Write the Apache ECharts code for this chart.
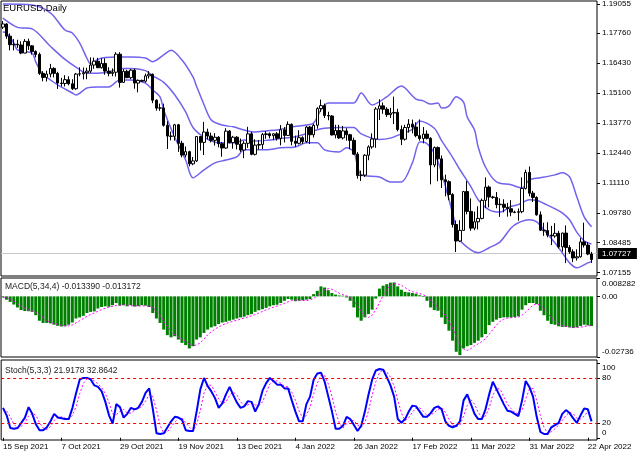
<!DOCTYPE html>
<html><head><meta charset="utf-8">
<script src="https://cdn.jsdelivr.net/npm/echarts@6/dist/echarts.min.js"></script>
<style>html,body{margin:0;padding:0;background:#fff}#c{width:640px;height:457px}</style>
</head><body><div id="c"></div>
<script>
// ---- date tick labels (one every 16 bars) ----
const tickLabels = ['15 Sep 2021','7 Oct 2021','29 Oct 2021','19 Nov 2021','13 Dec 2021','4 Jan 2022','26 Jan 2022','17 Feb 2022','11 Mar 2022','31 Mar 2022','22 Apr 2022'];
const priceTicks = [1.19055,1.17760,1.16430,1.15100,1.13770,1.12440,1.11110,1.09780,1.08485,1.07155];
const macdTicks = [0.008282, 0, -0.02736];
const stochTicks = [100, 80, 20, 0];
const stochLevels = [80, 20];

// ---- EURUSD daily candles ----
const open = [1.1803,1.1817,1.1763,1.1725,1.1727,1.1724,1.1688,1.1740,1.1720,1.1695,
1.1682,1.1598,1.1580,1.1595,1.1620,1.1598,1.1555,1.1553,1.1570,1.1552,
1.1530,1.1595,1.1596,1.1601,1.1608,1.1635,1.1652,1.1623,1.1642,1.1608,
1.1598,1.1603,1.1683,1.1558,1.1607,1.1579,1.1612,1.1555,1.1567,1.1563,
1.1587,1.1594,1.1479,1.1444,1.1445,1.1368,1.1320,1.1319,1.1370,1.1288,
1.1236,1.1251,1.1197,1.1210,1.1318,1.1292,1.1338,1.1320,1.1301,1.1315,
1.1286,1.1267,1.1342,1.1291,1.1315,1.1284,1.1258,1.1288,1.1330,1.1239,
1.1280,1.1283,1.1327,1.1330,1.1322,1.1330,1.1310,1.1348,1.1323,1.1372,
1.1297,1.1288,1.1313,1.1296,1.1360,1.1326,1.1368,1.1442,1.1455,1.1411,
1.1409,1.1325,1.1345,1.1312,1.1343,1.1326,1.1301,1.1240,1.1145,1.1147,
1.1235,1.1272,1.1307,1.1440,1.1454,1.1439,1.1415,1.1422,1.1425,1.1349,
1.1306,1.1358,1.1373,1.1360,1.1322,1.1309,1.1329,1.1310,1.1192,1.1269,
1.1219,1.1126,1.1118,1.1061,1.0928,1.0855,1.0902,1.1074,1.0986,1.0912,
1.0940,1.0955,1.1035,1.1094,1.1050,1.1048,1.1016,1.1018,1.1004,1.0998,
1.0983,1.0982,1.0985,1.1088,1.1159,1.1067,1.1048,1.0971,1.0903,1.0901,
1.0881,1.0877,1.0889,1.0829,1.0890,1.0826,1.0807,1.0780,1.0785,1.0851,
1.0837,1.0797];
const close = [1.1817,1.1763,1.1725,1.1727,1.1724,1.1688,1.1740,1.1720,1.1695,1.1682,
1.1598,1.1580,1.1595,1.1620,1.1598,1.1555,1.1553,1.1570,1.1552,1.1530,
1.1595,1.1596,1.1601,1.1608,1.1635,1.1652,1.1623,1.1642,1.1608,1.1598,
1.1603,1.1683,1.1558,1.1607,1.1579,1.1612,1.1555,1.1567,1.1563,1.1587,
1.1594,1.1479,1.1444,1.1445,1.1368,1.1320,1.1319,1.1370,1.1288,1.1236,
1.1251,1.1197,1.1210,1.1318,1.1292,1.1338,1.1320,1.1301,1.1315,1.1286,
1.1267,1.1342,1.1291,1.1315,1.1284,1.1258,1.1288,1.1330,1.1239,1.1280,
1.1283,1.1327,1.1330,1.1322,1.1330,1.1310,1.1348,1.1323,1.1372,1.1297,
1.1288,1.1313,1.1296,1.1360,1.1326,1.1368,1.1442,1.1455,1.1411,1.1409,
1.1325,1.1345,1.1312,1.1343,1.1326,1.1301,1.1240,1.1145,1.1147,1.1235,
1.1272,1.1307,1.1440,1.1454,1.1439,1.1415,1.1422,1.1425,1.1349,1.1306,
1.1358,1.1373,1.1360,1.1322,1.1309,1.1329,1.1310,1.1192,1.1269,1.1219,
1.1126,1.1118,1.1061,1.0928,1.0855,1.0902,1.1074,1.0986,1.0912,1.0940,
1.0955,1.1035,1.1094,1.1050,1.1048,1.1016,1.1018,1.1004,1.0998,1.0983,
1.0982,1.0985,1.1088,1.1159,1.1067,1.1048,1.0971,1.0903,1.0901,1.0881,
1.0877,1.0889,1.0829,1.0890,1.0826,1.0807,1.0780,1.0785,1.0851,1.0837,
1.0797,1.07727];
const high = [1.1830,1.1820,1.1775,1.1750,1.1747,1.1740,1.1750,1.1752,1.1723,1.1700,
1.1690,1.1608,1.1610,1.1640,1.1625,1.1605,1.1578,1.1590,1.1585,1.1572,
1.1600,1.1625,1.1624,1.1623,1.1669,1.1668,1.1667,1.1665,1.1665,1.1625,
1.1620,1.1692,1.1692,1.1617,1.1614,1.1617,1.1619,1.1571,1.1570,1.1597,
1.1608,1.1597,1.1483,1.1464,1.1464,1.1386,1.1340,1.1374,1.1374,1.1299,
1.1274,1.1255,1.1227,1.1320,1.1319,1.1383,1.1353,1.1335,1.1333,1.1320,
1.1294,1.1355,1.1347,1.1321,1.1320,1.1309,1.1298,1.1361,1.1339,1.1306,
1.1302,1.1334,1.1342,1.1336,1.1333,1.1338,1.1369,1.1360,1.1385,1.1376,
1.1322,1.1346,1.1319,1.1365,1.1365,1.1375,1.1448,1.1482,1.1464,1.1428,
1.1413,1.1370,1.1370,1.1365,1.1355,1.1330,1.1313,1.1249,1.1167,1.1240,
1.1279,1.1332,1.1448,1.1483,1.1469,1.1448,1.1445,1.1495,1.1441,1.1367,
1.1370,1.1395,1.1393,1.1381,1.1394,1.1360,1.1345,1.1315,1.1274,1.1274,
1.1234,1.1149,1.1124,1.1067,1.0946,1.0947,1.1077,1.1121,1.1044,1.0985,
1.1009,1.1043,1.1137,1.1101,1.1055,1.1072,1.1044,1.1040,1.1024,1.1036,
1.0989,1.0999,1.1137,1.1171,1.1185,1.1077,1.1053,1.0986,1.0936,1.0938,
1.0922,1.0934,1.0900,1.0892,1.0924,1.0837,1.0818,1.0818,1.0868,1.0936,
1.0850,1.0807];
const low = [1.1795,1.1751,1.1700,1.1700,1.1711,1.1683,1.1687,1.1702,1.1681,1.1669,
1.1591,1.1563,1.1562,1.1580,1.1580,1.1529,1.1540,1.1540,1.1545,1.1524,
1.1525,1.1585,1.1571,1.1572,1.1600,1.1618,1.1622,1.1619,1.1592,1.1585,
1.1585,1.1584,1.1535,1.1557,1.1577,1.1572,1.1530,1.1514,1.1560,1.1557,
1.1575,1.1466,1.1433,1.1432,1.1362,1.1263,1.1301,1.1300,1.1250,1.1226,
1.1225,1.1186,1.1191,1.1205,1.1256,1.1236,1.1305,1.1292,1.1278,1.1270,
1.1228,1.1263,1.1288,1.1264,1.1261,1.1250,1.1222,1.1268,1.1235,1.1234,
1.1260,1.1263,1.1308,1.1310,1.1302,1.1300,1.1279,1.1292,1.1322,1.1279,
1.1272,1.1283,1.1285,1.1290,1.1285,1.1314,1.1353,1.1427,1.1400,1.1390,
1.1323,1.1310,1.1308,1.1305,1.1300,1.1262,1.1237,1.1131,1.1121,1.1139,
1.1213,1.1264,1.1268,1.1391,1.1419,1.1405,1.1400,1.1373,1.1341,1.1280,
1.1300,1.1335,1.1332,1.1315,1.1300,1.1288,1.1305,1.1106,1.1182,1.1120,
1.1090,1.1053,1.1036,1.0915,1.0806,1.0850,1.0902,1.0973,1.0900,1.0903,
1.0906,1.0951,1.1001,1.1004,1.1042,1.1000,1.0962,1.0982,1.0963,1.0965,
1.0978,1.0945,1.0978,1.1083,1.1053,1.1028,1.0967,1.0900,1.0878,1.0871,
1.0837,1.0869,1.0822,1.0808,1.0757,1.0798,1.0761,1.0768,1.0781,1.0826,
1.0792,1.0758];

// ---- Bollinger bands as [bar, price] ----
const bbUpper = [[0,1.1905],[8,1.1901],[13,1.1866],[17,1.1790],[19,1.1777],[21,1.1733],[23,1.1665],[24,1.1640],[26,1.1660],[28,1.1668],[31,1.1671],[35,1.1671],[39,1.1666],[41,1.1650],[44,1.1680],[46,1.1700],[49,1.1657],[52,1.1582],[53,1.1540],[55,1.1460],[57,1.1391],[60,1.1369],[63,1.1361],[66,1.1347],[69,1.1338],[72,1.1343],[75,1.1347],[79,1.1361],[83,1.1369],[85,1.1378],[87,1.1436],[89,1.1467],[96,1.1467],[98,1.1511],[101,1.1458],[105,1.1494],[109,1.1542],[110,1.1533],[113,1.1484],[115,1.1476],[117,1.1462],[119,1.1467],[120,1.1444],[122,1.1453],[124,1.1494],[126,1.1471],[127,1.1405],[129,1.1347],[130,1.1272],[132,1.1183],[135,1.1117],[139,1.1104],[142,1.1090],[144,1.1126],[147,1.1135],[151,1.1148],[153,1.1157],[155,1.1139],[157,1.1050],[159,1.0962],[161,1.0918]];
const bbMiddle = [[0,1.1843],[4,1.1802],[8,1.1795],[13,1.1718],[17,1.1660],[20,1.1626],[23,1.1599],[26,1.1599],[29,1.1604],[32,1.1620],[35,1.1620],[39,1.1610],[41,1.1587],[44,1.1558],[47,1.1503],[50,1.1427],[52,1.1358],[55,1.1315],[58,1.1293],[61,1.1290],[64,1.1292],[66,1.1303],[69,1.1298],[72,1.1301],[76,1.1309],[80,1.1317],[83,1.1330],[86,1.1348],[88,1.1355],[92,1.1358],[96,1.1358],[98,1.1330],[103,1.1305],[106,1.1311],[109,1.1330],[112,1.1350],[114,1.1387],[118,1.1355],[120,1.1300],[123,1.1226],[125,1.1171],[128,1.1096],[130,1.1038],[133,1.0993],[136,1.0983],[139,1.1009],[141,1.1016],[144,1.1038],[146,1.1036],[148,1.1021],[151,1.0998],[153,1.0980],[155,1.0949],[157,1.0893],[159,1.0856],[161,1.0841]];
const bbLower = [[0,1.1781],[1,1.1777],[3,1.1733],[4,1.1702],[8,1.1688],[9,1.1649],[11,1.1591],[13,1.1569],[15,1.1547],[19,1.1511],[20,1.1502],[23,1.1533],[26,1.1538],[29,1.1538],[32,1.1569],[35,1.1569],[39,1.1555],[41,1.1524],[43,1.1494],[44,1.1436],[47,1.1316],[50,1.1214],[52,1.1135],[55,1.1170],[58,1.1201],[61,1.1214],[64,1.1228],[66,1.1259],[69,1.1259],[72,1.1259],[76,1.1268],[80,1.1272],[83,1.1290],[86,1.1290],[88,1.1259],[92,1.1250],[94,1.1268],[96,1.1250],[98,1.1148],[103,1.1139],[106,1.1117],[109,1.1117],[112,1.1201],[114,1.1294],[115,1.1294],[118,1.1245],[120,1.1157],[123,1.0979],[125,1.0860],[128,1.0816],[130,1.0803],[133,1.0825],[136,1.0851],[139,1.0913],[141,1.0936],[144,1.0949],[146,1.0940],[148,1.0904],[151,1.0847],[153,1.0803],[155,1.0758],[157,1.0736],[160,1.0758],[161,1.0763]];

// ---- MACD(5,34,4) ----
const macdHist = [-0.0005,-0.0015,-0.0025,-0.0037,-0.0050,-0.0062,-0.0066,-0.0067,-0.0070,-0.0085,
-0.0110,-0.0120,-0.0120,-0.0122,-0.0128,-0.0133,-0.0136,-0.0135,-0.0128,-0.0118,
-0.0100,-0.0095,-0.0088,-0.0075,-0.0070,-0.0068,-0.0055,-0.0048,-0.0045,-0.0047,
-0.0040,-0.0030,-0.0042,-0.0040,-0.0045,-0.0040,-0.0046,-0.0044,-0.0040,-0.0042,
-0.0048,-0.0075,-0.0100,-0.0120,-0.0150,-0.0175,-0.0185,-0.0180,-0.0195,-0.0210,
-0.0220,-0.0235,-0.0225,-0.0195,-0.0185,-0.0165,-0.0150,-0.0140,-0.0135,-0.0125,
-0.0118,-0.0115,-0.0110,-0.0105,-0.0100,-0.0095,-0.0092,-0.0085,-0.0080,-0.0070,
-0.0063,-0.0058,-0.0052,-0.0045,-0.0040,-0.0038,-0.0030,-0.0020,-0.0012,-0.0015,
-0.0022,-0.0020,-0.0018,-0.0015,-0.0012,0.0010,0.0025,0.0045,0.0040,0.0028,
0.0015,0.0008,0.0004,0.0003,-0.0005,-0.0020,-0.0050,-0.0095,-0.0110,-0.0095,
-0.0080,-0.0060,-0.0010,0.0035,0.0048,0.0055,0.0062,0.0063,0.0045,0.0030,
0.0020,0.0018,0.0015,0.0012,0.0005,-0.0003,-0.0020,-0.0050,-0.0062,-0.0065,
-0.0095,-0.0125,-0.0155,-0.0200,-0.0250,-0.0265,-0.0235,-0.0225,-0.0220,-0.0210,
-0.0200,-0.0185,-0.0170,-0.0130,-0.0115,-0.0105,-0.0098,-0.0095,-0.0095,-0.0095,
-0.0093,-0.0090,-0.0060,-0.0040,-0.0030,-0.0030,-0.0035,-0.0065,-0.0085,-0.0110,
-0.0125,-0.0128,-0.0135,-0.0138,-0.0138,-0.0140,-0.0143,-0.0140,-0.0134,-0.0128,
-0.0131,-0.013390];
const macdSignal = [-0.0003,-0.0006,-0.0012,-0.0021,-0.0032,-0.0044,-0.0054,-0.0061,-0.0066,-0.0072,
-0.0083,-0.0096,-0.0109,-0.0118,-0.0123,-0.0126,-0.0130,-0.0133,-0.0133,-0.0129,
-0.0120,-0.0110,-0.0100,-0.0090,-0.0082,-0.0075,-0.0067,-0.0060,-0.0054,-0.0049,
-0.0045,-0.0041,-0.0040,-0.0038,-0.0039,-0.0042,-0.0043,-0.0044,-0.0043,-0.0043,
-0.0044,-0.0051,-0.0066,-0.0086,-0.0111,-0.0136,-0.0158,-0.0173,-0.0184,-0.0193,
-0.0201,-0.0215,-0.0223,-0.0219,-0.0210,-0.0193,-0.0174,-0.0160,-0.0148,-0.0138,
-0.0130,-0.0123,-0.0117,-0.0112,-0.0108,-0.0103,-0.0098,-0.0093,-0.0088,-0.0082,
-0.0075,-0.0068,-0.0061,-0.0055,-0.0049,-0.0044,-0.0038,-0.0032,-0.0025,-0.0019,
-0.0017,-0.0017,-0.0019,-0.0019,-0.0016,-0.0009,0.0002,0.0017,0.0030,0.0035,
0.0032,0.0023,0.0014,0.0008,0.0003,-0.0005,-0.0018,-0.0043,-0.0069,-0.0088,
-0.0095,-0.0086,-0.0061,-0.0029,0.0003,0.0032,0.0050,0.0057,0.0056,0.0050,
0.0040,0.0028,0.0021,0.0016,0.0013,0.0007,-0.0002,-0.0017,-0.0034,-0.0049,
-0.0068,-0.0087,-0.0110,-0.0144,-0.0183,-0.0218,-0.0238,-0.0244,-0.0236,-0.0223,
-0.0214,-0.0204,-0.0191,-0.0171,-0.0150,-0.0130,-0.0112,-0.0103,-0.0098,-0.0096,
-0.0095,-0.0093,-0.0085,-0.0071,-0.0055,-0.0040,-0.0034,-0.0040,-0.0054,-0.0074,
-0.0096,-0.0112,-0.0125,-0.0132,-0.0135,-0.0138,-0.0140,-0.0140,-0.0139,-0.0136,
-0.0133,-0.013172];

// ---- Stochastic(5,3,3) ----
const stochK = [40,30,13,12,13,20,27,41,32,18,
10,10,14,22,32,27,26,25,25,40,
60,78,80,80,78,70,68,62,48,30,
19,45,41,27,32,40,38,40,48,60,
66,38,6,5,6,14,22,28,27,24,
10,9,9,36,65,80,69,62,53,40,
46,58,68,57,47,40,42,49,48,35,
45,63,73,80,76,71,71,66,66,50,
35,22,22,45,55,78,86,87,75,55,
35,12,12,16,28,25,17,9,16,35,
58,78,90,92,91,81,70,55,25,20,
25,35,43,42,35,28,28,33,40,42,
38,22,16,14,16,22,50,58,45,32,
25,25,38,58,75,65,55,45,36,35,
32,29,50,76,68,55,28,8,5,5,
14,17,20,32,37,33,26,20,30,39,
38,21.9178];
const stochD = [38,36,28,18,13,15,20,29,33,30,
20,13,11,15,23,27,28,26,25,30,
42,59,73,79,79,76,72,67,59,47,
32,31,35,38,33,33,37,39,42,49,
58,55,37,16,6,8,14,21,26,26,
20,14,9,18,37,60,71,70,61,52,
46,48,57,61,57,48,43,44,46,44,
43,48,60,72,76,76,73,69,68,61,
50,36,26,30,41,59,73,84,83,72,
55,34,20,13,19,23,23,17,14,20,
36,57,75,87,91,88,81,69,50,33,
23,27,34,40,40,35,30,30,34,38,
40,34,25,17,15,17,29,43,51,45,
34,27,29,40,57,66,65,55,45,39,
34,32,37,52,65,66,50,30,14,6,
8,12,17,23,30,34,32,26,25,29,
35,32.8642];

// ---------------- chart ----------------
const FONT = '"Liberation Sans", Arial, sans-serif';
const SLOTS = close.length + 1;            // one empty slot on the right (chart shift)
const cats = Array.from({length: SLOTS}, (_, i) => i);
const candles = open.map((o, i) => [o, close[i], low[i], high[i]]);
const lastClose = close[close.length - 1];
const BB = '#7063ee';

const gridStyle = {show: true, borderColor: '#000', borderWidth: 1, backgroundColor: '#fff', left: 1, width: 596};
const xBase = gi => ({type: 'category', gridIndex: gi, data: cats, boundaryGap: true,
  axisLine: {show: false}, axisTick: {show: false}, axisLabel: {show: false}, splitLine: {show: false}});
const xBottom = Object.assign(xBase(2), {
  axisTick: {show: true, interval: 15, alignWithLabel: true, length: 3, lineStyle: {color: '#000'}},
  axisLabel: {show: true, interval: 15, formatter: v => tickLabels[v / 16] || '', fontSize: 8, color: '#000',
    fontFamily: FONT, margin: 3, align: 'left'}
});
const yCommon = {position: 'right', splitLine: {show: false}, axisLine: {show: false}};
const labelBase = {fontSize: 8, color: '#000', fontFamily: FONT, margin: 5, hideOverlap: false, showMinLabel: true, showMaxLabel: true};

const option = {
  animation: false,
  backgroundColor: '#fff',
  title: [
    {text: 'EURUSD,Daily', left: 3, top: 3, padding: 0,
      textStyle: {fontSize: 9.5, fontWeight: 'normal', color: '#000', fontFamily: FONT}},
    {text: 'MACD(5,34,4) ' + macdHist[macdHist.length - 1].toFixed(6) + ' ' + macdSignal[macdSignal.length - 1].toFixed(6),
      left: 5, top: 282, padding: 0, textStyle: {fontSize: 8.5, fontWeight: 'normal', color: '#222', fontFamily: FONT}},
    {text: 'Stoch(5,3,3) ' + stochK[stochK.length - 1].toFixed(4) + ' ' + stochD[stochD.length - 1].toFixed(4),
      left: 5, top: 366, padding: 0, textStyle: {fontSize: 8.5, fontWeight: 'normal', color: '#222', fontFamily: FONT}}
  ],
  grid: [
    Object.assign({top: 1, height: 275}, gridStyle),
    Object.assign({top: 278, height: 79}, gridStyle),
    Object.assign({top: 360, height: 80}, gridStyle)
  ],
  xAxis: [xBase(0), xBase(1), xBottom],
  yAxis: [
    Object.assign({type: 'value', gridIndex: 0, min: 1.06998, max: 1.19188,
      axisTick: {show: true, customValues: priceTicks, length: 3, lineStyle: {color: '#000'}},
      axisLabel: Object.assign({customValues: priceTicks, formatter: v => v.toFixed(5)}, labelBase)}, yCommon),
    Object.assign({type: 'value', gridIndex: 1, min: macdTicks[2], max: macdTicks[0],
      axisTick: {show: true, customValues: macdTicks, length: 3, lineStyle: {color: '#000'}},
      axisLabel: Object.assign({customValues: macdTicks, lineHeight: 11,
        formatter: v => v === 0 ? '0.00' : (v > 0 ? '\n' + v : v + '\n')}, labelBase)}, yCommon),
    Object.assign({type: 'value', gridIndex: 2, min: -3, max: 104,
      axisTick: {show: true, customValues: stochTicks, length: 3, lineStyle: {color: '#000'}},
      axisLabel: Object.assign({customValues: stochTicks,
        formatter: v => v === 100 ? '{dn|100}' : (v === 0 ? '{up|0}' : String(v)),
        rich: {dn: {fontSize: 8, fontFamily: FONT, color: '#000', padding: [9, 0, 0, 0]},
               up: {fontSize: 8, fontFamily: FONT, color: '#000', padding: [0, 0, 9, 0]}}}, labelBase)}, yCommon)
  ],
  series: [
    {type: 'candlestick', xAxisIndex: 0, yAxisIndex: 0, data: candles, barWidth: 3, z: 3,
      itemStyle: {color: '#fff', color0: '#000', borderColor: '#000', borderColor0: '#000', borderWidth: 1},
      markLine: {silent: true, symbol: ['none', 'none'], z: 1, data: [{yAxis: lastClose}],
        lineStyle: {color: '#c8c8c8', type: 'solid', width: 1},
        label: {show: true, position: 'end', distance: 1, formatter: lastClose.toFixed(5), backgroundColor: '#000',
          color: '#fff', fontSize: 8, fontFamily: FONT, padding: [2, 6, 1, 4]}}},
    {type: 'line', xAxisIndex: 0, yAxisIndex: 0, data: bbUpper, showSymbol: false, smooth: 0.3, z: 2,
      lineStyle: {color: BB, width: 1.5}},
    {type: 'line', xAxisIndex: 0, yAxisIndex: 0, data: bbMiddle, showSymbol: false, smooth: 0.3, z: 2,
      lineStyle: {color: BB, width: 1.5}},
    {type: 'line', xAxisIndex: 0, yAxisIndex: 0, data: bbLower, showSymbol: false, smooth: 0.3, z: 2,
      lineStyle: {color: BB, width: 1.5}},
    {type: 'bar', xAxisIndex: 1, yAxisIndex: 1, data: macdHist, barWidth: 3,
      itemStyle: {color: '#008000'}},
    {type: 'line', xAxisIndex: 1, yAxisIndex: 1, data: macdSignal, showSymbol: false,
      lineStyle: {color: '#ff00ff', width: 1, type: [2, 2]}},
    {type: 'line', xAxisIndex: 2, yAxisIndex: 2, data: stochD, showSymbol: false,
      lineStyle: {color: '#ff00ff', width: 1, type: [2, 2]}},
    {type: 'line', xAxisIndex: 2, yAxisIndex: 2, data: stochK, showSymbol: false, z: 3,
      itemStyle: {color: '#0000ff'}, lineStyle: {color: '#0000ff', width: 2},
      markLine: {silent: true, symbol: ['none', 'none'], data: stochLevels.map(v => ({yAxis: v, lineStyle: {color: '#ff0000', type: [3, 3], width: 1}})),
        itemStyle: {color: '#ff0000'}, lineStyle: {color: '#ff0000', type: [3, 3], width: 1}, label: {show: false}}}
  ]
};
const chart = echarts.init(document.getElementById('c'), null, {renderer: 'canvas', width: 640, height: 457});
chart.setOption(option);
</script></body></html>
